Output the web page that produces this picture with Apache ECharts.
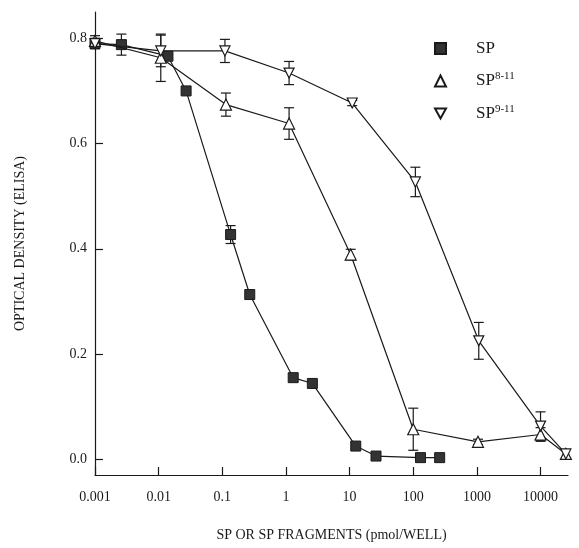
<!DOCTYPE html>
<html>
<head>
<meta charset="utf-8">
<script src="https://cdn.jsdelivr.net/npm/echarts@6/dist/echarts.min.js"></script>
<style>
  html, body { margin: 0; padding: 0; background: #fff; }
  #main { width: 579px; height: 548px; }
</style>
</head>
<body>
<div id="main"></div>
<script>
// dose (pmol/well) and optical density
var spX = [0.001, 0.0026, 0.014, 0.027, 0.135, 0.27, 1.3, 2.6, 12.5, 26, 130, 260];
var spY = [0.79, 0.788, 0.766, 0.70, 0.427, 0.313, 0.155, 0.144, 0.025, 0.006, 0.003, 0.003];
var spErr = [0, 0.02, 0, 0, 0.017, 0, 0, 0, 0, 0, 0, 0];

var sp8X = [0.001, 0.0108, 0.114, 1.12, 10.4, 100, 1040, 10000, 25000];
var sp8Y = [0.795, 0.763, 0.674, 0.638, 0.389, 0.057, 0.033, 0.047, 0.01];
var sp8Err = [0.01, 0.045, 0.022, 0.03, 0.01, 0.04, 0.005, 0.013, 0];

var sp9X = [0.001, 0.0108, 0.11, 1.12, 11, 108, 1070, 10000, 25000];
var sp9Y = [0.79, 0.776, 0.776, 0.734, 0.677, 0.527, 0.225, 0.063, 0.01];
var sp9Err = [0.01, 0.03, 0.022, 0.022, 0.005, 0.028, 0.035, 0.027, 0];

var xTicks = [0.001, 0.01, 0.1, 1, 10, 100, 1000, 10000];
var yTicks = [0, 0.2, 0.4, 0.6, 0.8];

var font = 'Liberation Serif';
var ink = '#1a1a1a';

function pairs(xs, ys) {
    return xs.map(function (x, i) { return [x, ys[i]]; });
}
function errData(xs, ys, es) {
    return xs.map(function (x, i) { return [x, ys[i], es[i]]; });
}

// 误差线
function errorBar(params, api) {
    var e = api.value(2);
    if (!e) return;
    var x = api.value(0), y = api.value(1);
    var top = api.coord([x, y + e]);
    var bot = api.coord([x, y - e]);
    var w = 5;
    var style = { stroke: ink, lineWidth: 1.2 };
    return {
        type: 'group',
        children: [
            { type: 'line', shape: { x1: top[0], y1: top[1], x2: bot[0], y2: bot[1] }, style: style },
            { type: 'line', shape: { x1: top[0] - w, y1: top[1], x2: top[0] + w, y2: top[1] }, style: style },
            { type: 'line', shape: { x1: bot[0] - w, y1: bot[1], x2: bot[0] + w, y2: bot[1] }, style: style }
        ]
    };
}

var myChart = echarts.init(document.getElementById('main'));
myChart.setOption({
    animation: false,
    textStyle: { fontFamily: font, color: ink },
    grid: { left: 95, right: 11, top: 12, bottom: 73 },
    legend: {
        orient: 'vertical',
        left: 434,
        top: 40,
        padding: 0,
        itemWidth: 11,
        itemHeight: 11,
        itemGap: 14,
        data: [
            { name: 'SP', icon: 'rect' },
            { name: 'SP8-11', icon: 'triangle' },
            { name: 'SP9-11', icon: 'path://M0,0L10,0L5,9Z' }
        ],
        formatter: function (name) {
            if (name === 'SP') return '{b|SP}';
            return '{b|SP}{s|' + name.slice(2) + '}';
        },
        textStyle: {
            fontFamily: font,
            rich: {
                b: { fontFamily: font, fontSize: 17, color: ink, lineHeight: 20, padding: [0, 0, 0, 25] },
                s: { fontFamily: font, fontSize: 11, color: ink, lineHeight: 20, verticalAlign: 'top' }
            }
        }
    },
    xAxis: {
        type: 'log',
        min: 0.001,
        max: 27000,
        name: 'SP OR SP FRAGMENTS (pmol/WELL)',
        nameLocation: 'middle',
        nameGap: 53,
        nameTextStyle: { fontFamily: font, fontSize: 14, color: ink },
        axisLine: { onZero: false, lineStyle: { color: ink, width: 1.2 } },
        axisTick: { inside: true, length: 8, customValues: xTicks, lineStyle: { color: ink, width: 1.2 } },
        axisLabel: {
            customValues: xTicks,
            margin: 15,
            fontFamily: font,
            fontSize: 14,
            color: ink,
            formatter: function (v) { return String(+v.toPrecision(3)); }
        },
        splitLine: { show: false }
    },
    yAxis: {
        type: 'value',
        min: -0.03,
        max: 0.85,
        name: 'OPTICAL DENSITY (ELISA)',
        nameLocation: 'middle',
        nameGap: 68,
        nameTextStyle: { fontFamily: font, fontSize: 14, color: ink },
        axisLine: { show: true, onZero: false, lineStyle: { color: ink, width: 1.2 } },
        axisTick: { show: true, inside: true, length: 8, customValues: yTicks, lineStyle: { color: ink, width: 1.2 } },
        axisLabel: {
            customValues: yTicks,
            margin: 8,
            fontFamily: font,
            fontSize: 14,
            color: ink,
            formatter: function (v) { return v.toFixed(1); }
        },
        splitLine: { show: false }
    },
    series: [
        {
            type: 'custom', name: 'errSP', renderItem: errorBar, z: 1,
            data: errData(spX, spY, spErr)
        },
        {
            type: 'custom', name: 'err8', renderItem: errorBar, z: 1,
            data: errData(sp8X, sp8Y, sp8Err)
        },
        {
            type: 'custom', name: 'err9', renderItem: errorBar, z: 1,
            data: errData(sp9X, sp9Y, sp9Err)
        },
        {
            name: 'SP', type: 'line', z: 3,
            symbol: 'rect', symbolSize: 10,
            lineStyle: { color: ink, width: 1.2 },
            itemStyle: { color: '#333', borderColor: ink, borderWidth: 1 },
            data: pairs(spX, spY)
        },
        {
            name: 'SP8-11', type: 'line', z: 4,
            symbol: 'triangle', symbolSize: 11,
            lineStyle: { color: ink, width: 1.2 },
            itemStyle: { color: '#fff', borderColor: ink, borderWidth: 1.2 },
            data: pairs(sp8X, sp8Y)
        },
        {
            name: 'SP9-11', type: 'line', z: 4,
            symbol: 'triangle', symbolRotate: 180, symbolSize: 10,
            lineStyle: { color: ink, width: 1.2 },
            itemStyle: { color: '#fff', borderColor: ink, borderWidth: 1.2 },
            data: pairs(sp9X, sp9Y)
        }
    ]
});
</script>
</body>
</html>
